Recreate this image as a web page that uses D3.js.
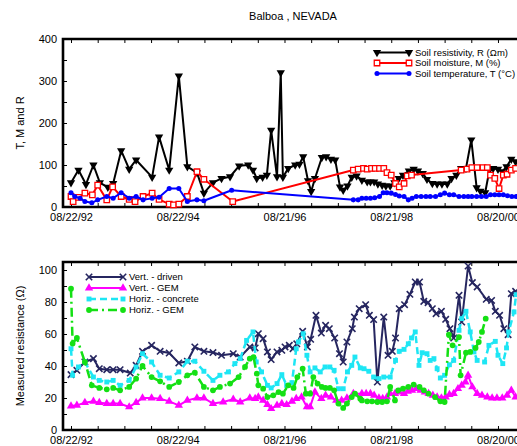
<!DOCTYPE html>
<html>
<head>
<meta charset="utf-8">
<script src="https://cdn.jsdelivr.net/npm/d3@7"></script>
<style>
  body { margin: 0; background: #fff; }
  svg { font-family: "Liberation Sans", Arial, sans-serif; }
</style>
</head>
<body>
<div id="root"></div>
<script>
// x values are decimal years
const dateTicks = [1992.64, 1994.64, 1996.64, 1998.64, 2000.64];
const dateTickLabels = ["08/22/92", "08/22/94", "08/21/96", "08/21/98", "08/20/00"];

const topTicks = [0, 100, 200, 300, 400];
const bottomTicks = [0, 20, 40, 60, 80, 100];

// top panel: soil properties
const resistivity = [[1992.64,58],[1992.78,88],[1992.92,54],[1993.06,100],[1993.18,58],[1993.33,47],[1993.43,56],[1993.58,134],[1993.73,90],[1993.86,112],[1994.16,71],[1994.29,167],[1994.48,88],[1994.66,312],[1994.82,96],[1995.00,82],[1995.13,33],[1995.30,58],[1995.46,68],[1995.62,72],[1995.79,98],[1995.96,100],[1996.05,88],[1996.12,68],[1996.23,71],[1996.31,76],[1996.39,183],[1996.50,72],[1996.57,320],[1996.61,71],[1996.71,92],[1996.84,100],[1996.92,102],[1996.99,120],[1997.08,63],[1997.14,37],[1997.21,68],[1997.34,118],[1997.42,120],[1997.51,114],[1997.59,112],[1997.68,48],[1997.74,40],[1997.82,50],[1997.90,71],[1997.99,74],[1998.09,64],[1998.19,60],[1998.25,60],[1998.32,60],[1998.39,55],[1998.47,52],[1998.54,50],[1998.62,50],[1998.70,58],[1998.78,68],[1998.86,76],[1998.97,86],[1999.06,90],[1999.14,86],[1999.23,80],[1999.31,66],[1999.41,56],[1999.50,55],[1999.59,55],[1999.69,55],[1999.77,68],[1999.86,76],[1999.95,92],[2000.04,92],[2000.14,160],[2000.24,46],[2000.31,38],[2000.40,34],[2000.48,88],[2000.55,92],[2000.64,90],[2000.72,84],[2000.80,96],[2000.89,114],[2000.97,108]];

const moisture = [[1992.64,25],[1992.68,13],[1992.78,23],[1992.90,33],[1993.04,29],[1993.14,52],[1993.31,17],[1993.42,48],[1993.58,25],[1993.73,18],[1993.84,13],[1993.99,25],[1994.16,33],[1994.29,18],[1994.48,7],[1994.56,5],[1994.66,7],[1994.82,25],[1995.00,84],[1995.13,66],[1995.67,13],[1997.93,88],[1998.02,90],[1998.12,92],[1998.19,90],[1998.27,92],[1998.34,92],[1998.42,92],[1998.50,92],[1998.56,82],[1998.64,76],[1998.72,56],[1998.79,48],[1998.88,56],[1998.94,74],[1999.02,76],[1999.95,88],[2000.06,90],[2000.15,94],[2000.25,94],[2000.36,94],[2000.44,94],[2000.50,76],[2000.58,68],[2000.66,44],[2000.74,76],[2000.81,78],[2000.89,88],[2000.97,92]];

const temperature = [[1992.64,34],[1992.71,25],[1992.81,21],[1992.90,13],[1993.03,10],[1993.14,17],[1993.31,25],[1993.43,21],[1993.58,34],[1993.73,21],[1993.86,25],[1993.99,17],[1994.16,21],[1994.29,23],[1994.48,44],[1994.66,44],[1994.82,13],[1995.00,17],[1995.13,15],[1995.65,40],[1997.93,17],[1998.02,17],[1998.09,21],[1998.17,21],[1998.25,21],[1998.33,22],[1998.42,25],[1998.49,34],[1998.56,34],[1998.64,33],[1998.72,30],[1998.79,26],[1998.88,25],[1998.96,17],[1999.03,21],[1999.11,25],[1999.20,25],[1999.29,25],[1999.37,25],[1999.47,25],[1999.56,29],[1999.64,33],[1999.73,29],[1999.81,29],[1999.91,25],[2000.00,25],[2000.08,25],[2000.15,25],[2000.24,25],[2000.33,25],[2000.42,25],[2000.50,29],[2000.58,29],[2000.66,29],[2000.74,29],[2000.82,27],[2000.90,25],[2000.98,25]];

// bottom panel: measured resistance of the electrodes
const vertDriven = [[1992.64,34.6],[1992.75,37.3],[1992.90,42.5],[1993.06,44.6],[1993.17,38.3],[1993.31,37.7],[1993.43,37.7],[1993.56,37.7],[1993.75,35.6],[1993.86,40.4],[1993.98,49.2],[1994.15,52.9],[1994.31,49.2],[1994.48,48.1],[1994.66,41.9],[1994.82,43],[1994.96,51.9],[1995.13,49.2],[1995.30,48.4],[1995.46,46.7],[1995.68,47.7],[1995.81,45.6],[1995.99,51.9],[1996.09,51.3],[1996.15,60.2],[1996.24,57.1],[1996.32,48.8],[1996.39,44],[1996.50,48.8],[1996.59,49.8],[1996.65,51.9],[1996.73,52.9],[1996.80,50.8],[1996.87,53.9],[1996.98,61.7],[1997.07,51.9],[1997.13,56.7],[1997.23,71.7],[1997.33,60.6],[1997.41,65.4],[1997.48,63.3],[1997.58,57.5],[1997.67,47.7],[1997.74,42.5],[1997.81,55],[1997.91,63.3],[1997.95,70.6],[1998.04,75.8],[1998.16,78.3],[1998.23,71.7],[1998.31,69],[1998.38,30],[1998.50,70.6],[1998.58,46.7],[1998.66,49.2],[1998.72,57.5],[1998.79,75.8],[1998.89,78.3],[1998.99,84.8],[1999.09,92.5],[1999.17,92.5],[1999.25,80.4],[1999.33,79.6],[1999.41,75.8],[1999.48,72.7],[1999.58,74.2],[1999.66,69.2],[1999.74,63.3],[1999.81,57.5],[1999.91,84.2],[1999.96,67.5],[2000.08,102.5],[2000.16,92.1],[2000.25,89.4],[2000.42,81.7],[2000.52,81],[2000.59,74.2],[2000.67,71.7],[2000.75,63.3],[2000.83,59.6],[2000.89,85.2],[2000.97,86.7]];

const vertGem = [[1992.64,15],[1992.75,15.4],[1992.90,17.1],[1993.06,17.9],[1993.17,17.1],[1993.31,16.5],[1993.43,16.5],[1993.56,16.5],[1993.73,14.4],[1993.86,17.1],[1993.98,20],[1994.15,20],[1994.31,19.6],[1994.48,17.9],[1994.66,15.4],[1994.82,18.5],[1995.00,20],[1995.13,20],[1995.30,16.5],[1995.49,17.5],[1995.68,19.2],[1995.81,17.5],[1995.99,20],[1996.09,19.6],[1996.15,20.6],[1996.24,18.5],[1996.32,15.8],[1996.39,13.3],[1996.50,15.4],[1996.59,16.5],[1996.68,15.8],[1996.78,17.9],[1996.86,19.6],[1996.96,20.6],[1997.06,14.4],[1997.12,14.4],[1997.21,23.7],[1997.33,19.6],[1997.41,21.7],[1997.51,20.6],[1997.61,18.5],[1997.71,18.5],[1997.81,20],[1997.93,22.7],[1998.09,22.7],[1998.17,22.7],[1998.25,22.7],[1998.32,21.7],[1998.41,20],[1998.48,19.6],[1998.56,20.6],[1998.62,22.7],[1998.71,22.7],[1998.79,23.7],[1998.88,22.7],[1998.95,24.2],[1999.03,24.8],[1999.11,25.8],[1999.19,24.8],[1999.27,23.7],[1999.34,22.7],[1999.42,21.7],[1999.50,20.6],[1999.58,20],[1999.66,20.6],[1999.73,22.1],[1999.81,22.7],[1999.89,25.8],[1999.96,27.9],[2000.03,30],[2000.08,34.2],[2000.16,26.9],[2000.25,22.7],[2000.34,21.7],[2000.44,20.6],[2000.53,20],[2000.62,20],[2000.72,20],[2000.81,21.7],[2000.89,24.8],[2000.97,20.6]];

const horizConcrete = [[1992.64,50.8],[1992.67,34.2],[1992.78,39.4],[1992.90,42.5],[1993.06,33.1],[1993.17,31],[1993.31,30],[1993.43,31],[1993.56,27.9],[1993.73,31],[1993.86,39.4],[1993.98,47.7],[1994.15,42.5],[1994.31,34.2],[1994.48,32.5],[1994.66,36.3],[1994.82,43],[1994.96,43],[1995.13,36.7],[1995.30,31],[1995.43,34.2],[1995.59,36.3],[1995.71,41.5],[1995.81,44.6],[1995.93,56],[1996.05,61.3],[1996.11,42.5],[1996.21,36.3],[1996.32,27.9],[1996.39,26.3],[1996.50,29],[1996.59,34.6],[1996.68,27.9],[1996.78,29.6],[1996.86,50.8],[1996.90,55],[1996.99,60.2],[1997.06,46.7],[1997.12,36.3],[1997.21,38.8],[1997.31,36.3],[1997.40,39.4],[1997.49,39.4],[1997.57,37.3],[1997.65,25.8],[1997.74,25.8],[1997.82,36.3],[1997.90,40.4],[1997.96,45.6],[1998.06,38.8],[1998.13,38.3],[1998.22,36.7],[1998.31,33.1],[1998.41,32.1],[1998.50,33.1],[1998.62,33.1],[1998.72,43.5],[1998.79,49.2],[1998.88,50.4],[1998.96,53.9],[1999.02,57.5],[1999.09,61.3],[1999.16,40.4],[1999.22,48.3],[1999.31,47.7],[1999.37,43.5],[1999.44,44.6],[1999.50,38.3],[1999.56,32.5],[1999.64,34.2],[1999.73,40.8],[1999.81,43.5],[1999.91,62.3],[1999.96,69.6],[2000.04,74.2],[2000.12,61.3],[2000.19,48.8],[2000.25,43.5],[2000.39,42.5],[2000.47,52.9],[2000.59,55.4],[2000.64,46.7],[2000.73,41.5],[2000.80,51.3],[2000.84,61.3],[2000.94,73.8],[2000.98,84.6]];

const horizGem = [[1992.64,88.3],[1992.67,54],[1992.75,57.5],[1992.90,42.5],[1993.03,27.9],[1993.17,26.3],[1993.31,25.4],[1993.43,26.3],[1993.56,24.8],[1993.73,26.9],[1993.86,32.1],[1993.98,40],[1994.15,33.1],[1994.31,30.4],[1994.48,26.9],[1994.66,30],[1994.82,34.2],[1994.96,35.8],[1995.13,26.9],[1995.30,24.8],[1995.43,26.9],[1995.62,29],[1995.78,33.1],[1995.90,39.4],[1995.99,44.6],[1996.06,45.6],[1996.12,35.2],[1996.15,27.9],[1996.24,25.8],[1996.32,20.6],[1996.43,21.7],[1996.53,23.7],[1996.61,22.7],[1996.71,27.9],[1996.81,26.3],[1996.88,33.1],[1996.98,38.3],[1997.04,22.7],[1997.12,22.7],[1997.18,33.1],[1997.26,29],[1997.34,26.9],[1997.41,26.3],[1997.49,26.3],[1997.57,24.8],[1997.65,16.5],[1997.74,13.8],[1997.81,16.5],[1997.90,20.6],[1997.96,22.7],[1998.06,19.6],[1998.09,18.5],[1998.19,17.9],[1998.28,17.9],[1998.38,17.5],[1998.47,17.5],[1998.56,17.9],[1998.62,26.9],[1998.71,18.5],[1998.77,24.8],[1998.86,25.8],[1998.96,26.9],[1999.06,28.3],[1999.17,26.9],[1999.25,24.8],[1999.34,22.7],[1999.46,20.6],[1999.56,17.9],[1999.64,17.5],[1999.72,59.6],[1999.79,52.9],[1999.91,58.1],[1999.94,34.2],[2000.04,48.3],[2000.12,48.8],[2000.22,51.3],[2000.28,55],[2000.34,61.3],[2000.41,69.6]];

const width = 517;
const height = 446;
const left = 63;
const right = 522; // the plot runs past the window edge

const svg = d3.select("#root")
  .append("svg")
  .attr("width", width)
  .attr("height", height);

const x = d3.scaleLinear().domain([1992.49, 2001.09]).range([left, right]);
const halfYears = d3.range(0, 18)
  .map(i => +(dateTicks[0] + i * 0.5).toFixed(2))
  .filter(d => d < 2001.09);

const dateLabel = d => {
  const i = dateTicks.indexOf(d);
  return i >= 0 ? dateTickLabels[i] : "";
};

const crossPath = "M-3.2,-3.2L3.2,3.2M-3.2,3.2L3.2,-3.2";
const markers = {
  triDown: d3.symbol(d3.symbolTriangle, 30)(),
  triUp: d3.symbol(d3.symbolTriangle, 30)(),
  square: d3.symbol(d3.symbolSquare, 30)(),
  smallSquare: d3.symbol(d3.symbolSquare, 24)(),
  circle: d3.symbol(d3.symbolCircle, 20)(),
  bigCircle: d3.symbol(d3.symbolCircle, 26)(),
  cross: crossPath
};

function drawMarker(g, type, px, py, s) {
  const m = g.append("path")
    .attr("d", markers[type])
    .attr("transform", `translate(${px},${py})` + (type === "triDown" ? " rotate(180)" : ""));
  if (type === "cross") {
    m.attr("fill", "none").attr("stroke", s.color).attr("stroke-width", 1.6);
  } else if (s.open) {
    m.attr("fill", "#fff").attr("stroke", s.color).attr("stroke-width", 1.3);
  } else {
    m.attr("fill", s.color);
  }
}

function drawPanel(top, bottom, yMax, yTicks, yMinorStep, yTitle, series) {
  const y = d3.scaleLinear().domain([0, yMax]).range([bottom, top]);
  const yMinor = d3.range(0, yMax + 0.001, yMinorStep);

  const axes = svg.append("g").attr("class", "axes");
  axes.append("g")
    .attr("transform", `translate(0,${bottom})`)
    .call(d3.axisBottom(x).tickValues(halfYears).tickSize(-4).tickSizeOuter(0).tickPadding(6).tickFormat(dateLabel));
  axes.append("g")
    .attr("transform", `translate(0,${top})`)
    .call(d3.axisTop(x).tickValues(halfYears).tickSize(-4).tickSizeOuter(0).tickFormat(""));
  axes.append("g")
    .attr("transform", `translate(${left},0)`)
    .call(d3.axisLeft(y).tickValues(yMinor).tickSize(-4).tickSizeOuter(0).tickPadding(6)
      .tickFormat(d => yTicks.includes(d) ? d : ""));
  axes.selectAll(".domain").remove();
  axes.selectAll(".tick line").attr("stroke", "#000").attr("stroke-width", 1);
  axes.selectAll("text").attr("font-size", 11).attr("fill", "#000")
    .attr("font-family", "Liberation Sans, Arial, sans-serif");

  svg.append("path")
    .attr("d", `M${right},${top}H${left}V${bottom}H${right}`)
    .attr("fill", "none")
    .attr("stroke", "#000")
    .attr("stroke-width", 2.6);

  svg.append("text")
    .attr("transform", `translate(24,${(top + bottom) / 2}) rotate(-90)`)
    .attr("text-anchor", "middle")
    .attr("font-size", 11)
    .text(yTitle);

  const line = d3.line().x(d => x(d[0])).y(d => y(d[1]));
  series.forEach(s => {
    const g = svg.append("g");
    g.append("path")
      .datum(s.data)
      .attr("d", line)
      .attr("fill", "none")
      .attr("stroke", s.color)
      .attr("stroke-width", s.width)
      .attr("stroke-dasharray", s.dash || null)
      .attr("stroke-linejoin", "round");
    s.data.forEach(d => drawMarker(g, s.marker, x(d[0]), y(d[1]), s));
  });
}

function drawLegend(rows, x1, x2, y0, step, fontSize) {
  rows.forEach((s, i) => {
    const ly = y0 + i * step;
    const g = svg.append("g");
    g.append("line")
      .attr("x1", x1).attr("x2", x2)
      .attr("y1", ly).attr("y2", ly)
      .attr("stroke", s.color)
      .attr("stroke-width", s.width)
      .attr("stroke-dasharray", s.dash || null);
    drawMarker(g, s.marker, x1, ly, s);
    drawMarker(g, s.marker, x2, ly, s);
    g.append("text")
      .attr("x", x2 + 6)
      .attr("y", ly)
      .attr("dy", "0.35em")
      .attr("font-size", fontSize)
      .text(s.label);
  });
}

const soilSeries = [
  { label: "Soil resistivity, R (\u03A9m)", data: resistivity, color: "#000", width: 2, marker: "triDown" },
  { label: "Soil moisture, M (%)", data: moisture, color: "#f00", width: 2, marker: "square", open: true },
  { label: "Soil temperature, T (\u00B0C)", data: temperature, color: "#00f", width: 2, marker: "circle" }
];

const resistanceSeries = [
  { label: "Vert. - driven", data: vertDriven, color: "#262660", width: 2, marker: "cross" },
  { label: "Vert. - GEM", data: vertGem, color: "#f0f", width: 2, marker: "triUp" },
  { label: "Horiz. - concrete", data: horizConcrete, color: "#1ee6f4", width: 2.5, marker: "smallSquare", dash: "7,4" },
  { label: "Horiz. - GEM", data: horizGem, color: "#14e014", width: 2.5, marker: "bigCircle", dash: "9,4,2,4" }
];

svg.append("text")
  .attr("x", 293)
  .attr("y", 20)
  .attr("text-anchor", "middle")
  .attr("font-size", 11)
  .text("Balboa , NEVADA");

drawPanel(39, 207, 400, topTicks, 50, "T, M and R", soilSeries);
drawPanel(262, 430, 105, bottomTicks, 10, "Measured resistance (\u03A9)", resistanceSeries);

drawLegend(soilSeries, 377, 409, 52.5, 10.5, 9.5);
drawLegend(resistanceSeries, 89, 123, 277, 11, 9.5);
</script>
</body>
</html>
